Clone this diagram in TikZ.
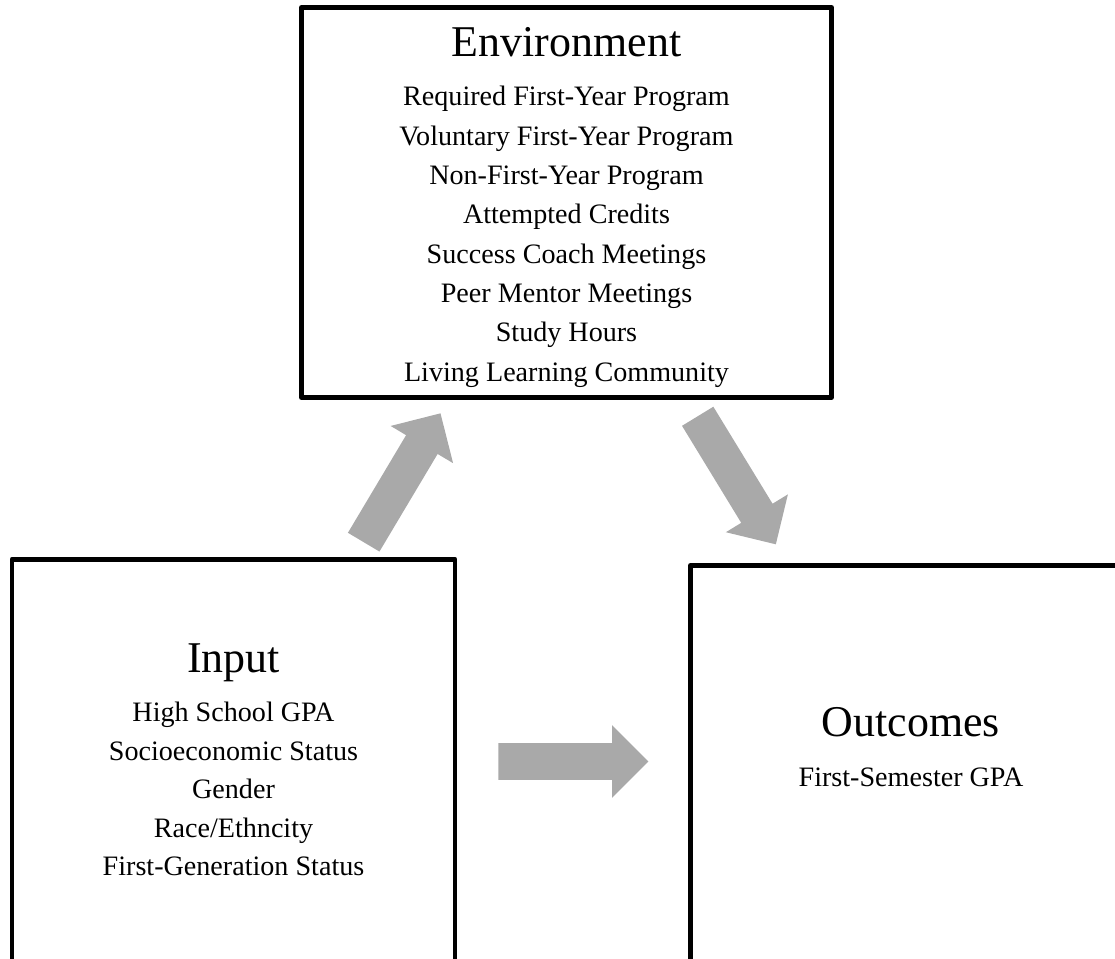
\documentclass[tikz,border=0pt]{standalone}
\usepackage{fontspec}
\setmainfont{Liberation Serif}
\usepackage{tikz}
\usetikzlibrary{positioning}
\usetikzlibrary{shapes.arrows}
\definecolor{arrowgray}{RGB}{169,169,169}
\tikzset{box/.style={draw, line width=2.8pt, line join=round, inner sep=0pt}}
\tikzset{boxtitle/.style={anchor=base, inner sep=0pt, font=\fontsize{25}{30}\selectfont}}
\tikzset{boxitem/.style={anchor=base, inner sep=0pt, font=\fontsize{16}{19}\selectfont}}
\tikzset{bigarrow/.style={single arrow, fill=arrowgray, draw=none, inner xsep=0pt, inner ysep=0.36cm, single arrow head extend=0.36cm, minimum height=3cm, anchor=tail}}

\begin{document}
\begin{tikzpicture}
\useasboundingbox (0,0) rectangle (22.3,19.18);
\clip (0,0) rectangle (22.3,19.18);
% the three boxes
\node[box, minimum width=10.6cm, minimum height=7.8cm] (env) at (11.33,15.13) {};
\node[box, minimum width=8.86cm, minimum height=9cm] (input) at (4.67,3.49) {};
\node[box, minimum width=8.82cm, minimum height=9cm] (outcome) at (18.22,3.37) {};
% environment
\node[boxtitle] (envtitle) at (11.33,18.04) {Environment};
\foreach \t [count=\i from 0] in {Required First-Year Program, Voluntary First-Year Program, Non-First-Year Program, Attempted Credits, Success Coach Meetings, Peer Mentor Meetings, Study Hours, Living Learning Community} {
\node[boxitem] (envitem\i) at (11.33,17.06-0.786*\i) {\t};
}
% input
\node[boxtitle] (inputtitle) at (4.67,5.72) {Input};
\foreach \t [count=\i from 0] in {High School GPA, Socioeconomic Status, Gender, Race/Ethncity, First-Generation Status} {
\node[boxitem] (inputitem\i) at (4.67,4.74-0.77*\i) {\t};
}
% outcomes
\node[boxtitle] (outcometitle) at (18.22,4.44) {Outcomes};
\node[boxitem] (outcomeitem) at (18.22,3.44) {First-Semester GPA};
% arrows
\node[bigarrow, rotate=59.2] (inenv) at (7.27,8.33) {};
\node[bigarrow, rotate=-58.6] (envout) at (13.95,10.86) {};
\node[bigarrow] (inout) at (9.96,3.95) {};
\end{tikzpicture}
\end{document}
